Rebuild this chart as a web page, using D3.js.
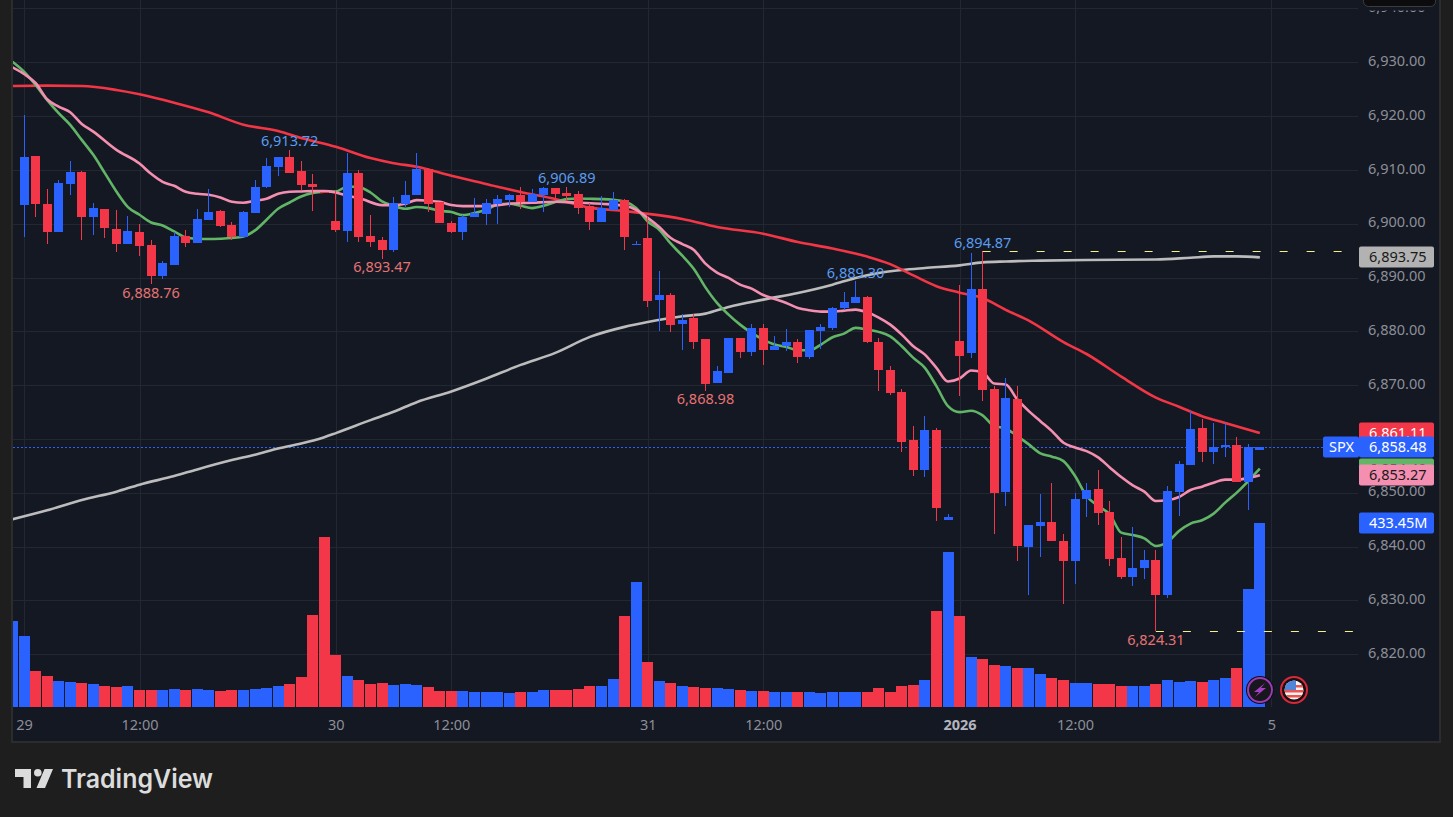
<!DOCTYPE html>
<html>
<head>
<meta charset="utf-8">
<script src="https://d3js.org/d3.v7.min.js"></script>
<style>
  html, body { margin: 0; padding: 0; background: #1e1e1e; overflow: hidden; }
  svg { display: block; }
  text { font-family: "Noto Sans", sans-serif; }
</style>
</head>
<body>
<div id="chart"></div>
<script>
// SPX 30 min candles
var opens = [6903.5,6912.6,6903.7,6898.5,6907.4,6909.65,6901.3,6902.8,6899.1,6896.3,6898.5,6896.1,6890.2,6892.4,6897.8,6896.5,6900.7,6902.4,6899.8,6897.6,6902,6906.9,6910.6,6912.4,6909.8,6907.4,6905.9,6900.5,6898.7,6909.4,6897.8,6897,6895.2,6903.7,6905.4,6910.2,6904.1,6900.2,6898.5,6901.3,6901.8,6903.7,6904.4,6905.4,6904.1,6905.4,6906.7,6905.7,6905.55,6903.3,6900.35,6902.6,6904.4,6896.1,6897.4,6885.75,6886.7,6881.3,6882.4,6878.5,6870.35,6872.2,6878.7,6876.1,6880.7,6876.5,6877.2,6878,6875.2,6880,6880.7,6884.3,6885.2,6886.3,6878.1,6872.87,6868.8,6859.9,6854.3,6861.6,6845,6878.25,6876,6887.9,6869.35,6850.2,6867.5,6840,6843.9,6844.5,6841.1,6837.25,6848.8,6850.7,6846.4,6837.9,6834.3,6836,6837.5,6831,6850.1,6855.1,6862,6857.5,6858.5,6858.8,6852,6858];
var highs = [6920.2,6912.6,6906.5,6908.2,6911.7,6909.8,6903.9,6902.8,6902.6,6901.5,6900,6896.9,6893,6898.5,6898.9,6902.8,6906.5,6902.6,6900.4,6902.4,6908.2,6912.3,6912.4,6913.72,6911.7,6909.3,6905.9,6906,6913.15,6910,6901.65,6897.6,6905,6908,6913.15,6910.4,6904.1,6900.5,6901.65,6904.8,6904.6,6905.4,6905.55,6906.85,6906.5,6906.85,6906.7,6906.89,6906.1,6903.9,6905.2,6905.9,6904.6,6896.8,6901.4,6891.3,6887.2,6883.3,6883.3,6878.5,6873.5,6878.7,6878.7,6881.3,6881.3,6879.1,6880.4,6878.5,6880.2,6881.3,6884.6,6887.4,6889.3,6886.5,6878.7,6873.5,6869.35,6862.5,6864.3,6862.1,6846,6888.6,6894.6,6894.87,6869.9,6871.4,6869.9,6844.1,6849.7,6851.9,6842.3,6849.9,6851.9,6854.2,6848.4,6841.8,6843.6,6839.35,6839.35,6851.2,6855.9,6865.3,6863.65,6862.9,6863,6860.3,6859,6858.48];
var lows = [6897.6,6901.3,6896.3,6898.5,6905.4,6896.9,6898,6897.4,6894.8,6896.3,6894.1,6888.76,6889.8,6892.4,6895.7,6896.5,6900.7,6899.4,6896.9,6897.6,6902,6906.7,6908.9,6909.5,6906.3,6902.4,6905.8,6898.5,6896.6,6896.6,6895.7,6893.47,6894.8,6903.1,6905.4,6902.2,6900.2,6898.3,6897,6901.3,6899.8,6900,6903.1,6902.8,6904.1,6902.2,6904.6,6904.25,6901.8,6898.9,6900.35,6902.6,6895.2,6896.1,6884.45,6880,6879.8,6876.5,6876.8,6868.98,6870.35,6872.2,6875,6875.4,6873.7,6876.5,6876.3,6874.1,6874.8,6876.8,6880.2,6883.9,6885.2,6877.8,6868.9,6868.2,6857.5,6853.2,6853,6844.7,6845,6868,6875.1,6867,6842.4,6847.5,6837.4,6831,6838,6841,6829.3,6833,6845.5,6844,6836.4,6834,6832.7,6834,6824.31,6830.4,6845.7,6855.1,6855.7,6855.3,6856.6,6852,6846.8,6858];
var closes = [6912.4,6903.7,6898.5,6907.6,6909.65,6901.3,6903,6899.3,6896.3,6898.7,6895.9,6890.2,6892.8,6897.8,6896.5,6900.9,6902.2,6899.6,6897.6,6902.2,6906.9,6910.8,6912.4,6909.5,6907.2,6906.9,6905.8,6898.9,6909.4,6897.6,6896.6,6895.2,6903.9,6905.4,6910.2,6903.7,6900.2,6898.5,6901.3,6902,6903.9,6904.6,6905.4,6904.1,6905.55,6906.7,6905.55,6905.2,6903,6900.35,6903,6904.4,6897.6,6896.3,6885.6,6886.7,6881.1,6882.2,6878.1,6870.2,6872.6,6878.7,6876.1,6880.7,6876.5,6877.2,6878,6875.2,6880.2,6880.9,6884.3,6885.4,6886.3,6878,6872.8,6868.6,6859.5,6854.3,6861.6,6847.1,6845.6,6875.5,6887.9,6869.2,6850.05,6867.7,6840.2,6844.1,6844.5,6841,6837.25,6848.9,6850.5,6846.2,6837.7,6834.3,6836,6837.5,6831,6850.3,6855.3,6861.8,6857.5,6858.6,6858.8,6852,6858.6,6858.48];

// volume in millions, first value belongs to the cut off bar left of the first candle
var volumes = [202.6,167.2,84.8,73,61.2,58.9,56.5,54.2,49.5,47.1,49.5,40,40,40,42.4,40,42.4,40,37.7,40,40,42.4,44.8,49.5,54.2,70.7,216.7,400.5,122.5,73,63.6,54.2,56.5,51.8,54.2,51.8,47.1,37.7,37.7,37.7,35.3,35.3,35.3,33,35.3,35.3,40,40,40,42.4,49.5,49.5,66,214.4,294.5,106,61.2,56.5,49.5,47.1,44.8,44.8,42.4,40,37.7,37.7,35.3,35.3,35.3,35.3,33,35.3,35.3,35.3,35.3,44.8,35.3,49.5,51.8,63.6,226.1,365.1,214.4,117.8,113.1,98.9,96.6,91.9,91.9,77.7,68.3,63.6,56.5,56.5,54.2,54.2,49.5,49.5,49.5,54.2,63.6,58.9,61.2,58.9,63.6,68.3,91.9,278,433.45];

// moving averages, each with the bar numbers it was read at
var greenIndex = d3.range(-1, 108);
var greenValues = [6930.11,6928.26,6925.79,6923.01,6920.54,6918.37,6915.58,6912.8,6909.41,6905.99,6903.1,6901.67,6900.24,6899.68,6898.57,6897.46,6897.22,6897.16,6897.22,6897.35,6897.64,6898.76,6900.74,6902.78,6903.95,6905.07,6905.7,6905.94,6905.99,6906.92,6906.81,6905.81,6904.14,6903.34,6902.78,6903.1,6902.91,6902.41,6902.17,6901.61,6901.98,6902.6,6903.52,6903.71,6903.34,6902.91,6903.34,6904.03,6904.58,6904.69,6904.64,6904.58,6904.45,6904.14,6902.91,6900.43,6898.89,6896.29,6894.06,6891.6,6888.18,6885.29,6883.12,6881.26,6879.72,6878.48,6877.55,6877.12,6876.49,6876.49,6877.55,6878.91,6879.59,6880.65,6880.33,6879.91,6879.09,6877.24,6875.08,6873.23,6869.82,6866.1,6864.99,6865.25,6864.38,6862.39,6861.97,6860.54,6859,6857.33,6856.72,6855.9,6853.12,6849.4,6847.55,6846.01,6842.61,6842.17,6841.55,6840.13,6840.87,6842.91,6844.29,6844.9,6846.14,6848.18,6850.04,6852.19,6854.49];

var pinkIndex = [-1,0,1,2,3,4,5,6,8,10,11,12,13,14,15,16,17,18,19,20,21,22,23,24,25,26,27,28,29,31,32,33,34,35,36,37,38,40,42,44,46,48,50,52,53,54,55,56,57,58,59,60,61,62,63,64,65,66,67,68,69,70,71,72,73,74,75,76,77,78,79,80,81,82,83,84,85,86,87,88,89,90,91,92,93,94,95,96,97,98,99,100,101,102,103,104,105,106,107];
var pinkValues = [6929.07,6927.83,6926.16,6923.14,6921.76,6920.72,6918.55,6917.12,6913.73,6911.19,6909.28,6907.79,6907.05,6905.94,6905.57,6905.38,6904.88,6904.08,6903.9,6904.27,6904.64,6905.57,6905.94,6906,6906.07,6906.07,6905.81,6905.2,6904.77,6903.47,6903.47,6903.71,6904.4,6904.27,6904.08,6903.47,6903.28,6903.28,6903.71,6903.9,6904.08,6903.9,6903.71,6903.34,6902.6,6901.1,6899.39,6897.35,6896.23,6895.12,6892.58,6890.91,6889.93,6888.68,6887.94,6886.77,6886.03,6885.29,6884.36,6883.92,6883.67,6883.67,6883.86,6884.04,6883.54,6882.56,6881.26,6879.4,6877.24,6875.69,6873.23,6870.69,6871.24,6872.73,6872.36,6870.32,6870.13,6867.35,6865.18,6863.32,6861.47,6859.31,6858.44,6857.75,6856.59,6854.73,6852.93,6851.39,6850.22,6848.48,6848.61,6849.22,6850.52,6851.15,6851.89,6852.45,6852.45,6852.75,6853.27];

var redIndex = [-1,2,5,8,10,13,16,19,22,24,27,30,32,34,37,40,43,46,49,52,54,57,60,64,67,70,73,75,77,79,81,83,85,87,90,92,95,98,100,102,104,107];
var redValues = [6925.6,6925.66,6925.6,6924.86,6924.06,6922.5,6920.7,6918.4,6917.25,6915.95,6914.3,6912.2,6911.25,6910.6,6908.9,6907.4,6905.9,6904.6,6903,6902.35,6901.85,6900.9,6899.4,6898.15,6896.6,6895.4,6893.9,6892.5,6890.4,6888.4,6887.2,6886.2,6884,6882,6878,6875.8,6871.6,6867.7,6866,6864.25,6863,6861.11];

var greyIndex = [-1,2,5,8,10,13,15,18,20,22,24,26,27,30,32,34,37,40,43,46,49,52,54,57,59,61,64,67,70,72,74,76,78,81,83,85,88,92,98,101,103,105,107];
var greyValues = [6845.08,6846.75,6848.66,6850.22,6851.52,6853.12,6854.36,6856.09,6857.09,6858.26,6859.18,6860.35,6861.1,6863.51,6865.06,6866.85,6868.83,6871.19,6873.78,6876.01,6878.98,6880.84,6881.73,6882.8,6883.3,6884.55,6885.9,6887.14,6888.68,6889.93,6890.85,6891.41,6891.78,6892.26,6892.82,6893,6893.14,6893.27,6893.36,6893.69,6893.93,6893.93,6893.75];

var priceTicks = [6820,6830,6840,6850,6860,6870,6880,6890,6900,6910,6920,6930,6940];
var timeTicks = [0,10,27,37,54,64,81,91,108];
var timeLabels = ["29","12:00","30","12:00","31","12:00","2026","12:00","5"];

var highMarks = [23,47,72,83];
var lowMarks = [11,31,59,98];

var lastClose = 6858.48;
var lastVolume = 433.45;

var width = 1453, height = 817;
var plotLeft = 13, plotRight = 1358;

var BLUE = "#2962ff", RED = "#f43649", GRID = "#232732", BG = "#141823";
var LABEL_BLUE = "#5b9cf0", LABEL_RED = "#e57373";

var svg = d3.select("#chart").append("svg").attr("width", width).attr("height", height);

// panel
svg.append("rect").attr("x", 12).attr("y", -4).attr("width", 1428).attr("height", 746)
  .attr("fill", BG).attr("stroke", "#2c2c2c").attr("stroke-width", 2);

var x = d3.scaleLinear().domain([0, 108]).range([24, 24 + 108 * 11.55]);
var y = d3.scaleLinear().domain([6820, 6930]).range([654.3, 62.3]);
var vol = d3.scaleLinear().domain([0, lastVolume]).range([707, 523]);

svg.append("clipPath").attr("id", "plot").append("rect")
  .attr("x", plotLeft).attr("y", 0).attr("width", plotRight - plotLeft).attr("height", 707);

// grid
svg.append("g").selectAll("line").data(priceTicks).join("line")
  .attr("x1", plotLeft).attr("x2", plotRight)
  .attr("y1", function(d) { return Math.round(y(d)) + 0.5; })
  .attr("y2", function(d) { return Math.round(y(d)) + 0.5; })
  .attr("stroke", GRID);

svg.append("g").selectAll("line").data(timeTicks).join("line")
  .attr("x1", function(d) { return Math.round(x(d)) + 0.5; })
  .attr("x2", function(d) { return Math.round(x(d)) + 0.5; })
  .attr("y1", 0).attr("y2", 707)
  .attr("stroke", GRID);

// last price line
svg.append("line")
  .attr("x1", plotLeft).attr("x2", 1323)
  .attr("y1", Math.round(y(lastClose)) + 0.5).attr("y2", Math.round(y(lastClose)) + 0.5)
  .attr("stroke", BLUE).attr("stroke-dasharray", "2 2")
  .attr("shape-rendering", "crispEdges");

var plot = svg.append("g").attr("clip-path", "url(#plot)");

function candleColor(i) {
  if (i < 0) return BLUE;
  return closes[i] >= opens[i] ? BLUE : RED;
}

// volume bars
plot.append("g").attr("shape-rendering", "crispEdges")
  .selectAll("rect").data(volumes).join("rect")
  .attr("x", function(d, i) { return Math.round(x(i - 1) - 5.5); })
  .attr("width", 11)
  .attr("y", function(d) { return vol(d); })
  .attr("height", function(d) { return vol(0) - vol(d); })
  .attr("fill", function(d, i) { return candleColor(i - 1); });

// moving averages
function drawAverage(index, values, color) {
  var line = d3.line()
    .x(function(d, i) { return x(index[i]); })
    .y(function(d) { return y(d); })
    .curve(d3.curveMonotoneX);
  plot.append("path").datum(values)
    .attr("d", line)
    .attr("fill", "none")
    .attr("stroke", color)
    .attr("stroke-width", 2.6);
}
drawAverage(greyIndex, greyValues, "#bcbcbc");
drawAverage(redIndex, redValues, "#f23645");
drawAverage(greenIndex, greenValues, "#62b567");
drawAverage(pinkIndex, pinkValues, "#f48fb1");

// candles
var candles = plot.append("g").attr("shape-rendering", "crispEdges");

candles.selectAll(".wick").data(opens).join("rect")
  .attr("class", "wick")
  .attr("x", function(d, i) { return Math.round(x(i) - 0.5); })
  .attr("width", 1)
  .attr("y", function(d, i) { return y(highs[i]); })
  .attr("height", function(d, i) { return Math.max(1, y(lows[i]) - y(highs[i])); })
  .attr("fill", function(d, i) { return candleColor(i); });

candles.selectAll(".body").data(opens).join("rect")
  .attr("class", "body")
  .attr("x", function(d, i) { return Math.round(x(i) - 0.5) - 4; })
  .attr("width", 9)
  .attr("y", function(d, i) { return y(Math.max(d, closes[i])); })
  .attr("height", function(d, i) { return Math.max(1, Math.abs(y(d) - y(closes[i]))); })
  .attr("fill", function(d, i) { return candleColor(i); });

// session high and low dashes
var dashes = [{ bar: 83, value: highs[83] }, { bar: 98, value: lows[98] }];
svg.append("g").selectAll("line").data(dashes).join("line")
  .attr("x1", function(d) { return x(d.bar); })
  .attr("x2", plotRight)
  .attr("y1", function(d) { return Math.round(y(d.value)) + 0.5; })
  .attr("y2", function(d) { return Math.round(y(d.value)) + 0.5; })
  .attr("stroke", "#f5f08a")
  .attr("stroke-dasharray", "8 19");

// high and low labels
var money = d3.format(",.2f");

svg.append("g").selectAll("text").data(highMarks).join("text")
  .attr("x", function(d) { return x(d); })
  .attr("y", function(d) { return y(highs[d]) - 8.5; })
  .attr("dy", "0.35em")
  .attr("text-anchor", "middle")
  .attr("font-size", 14.5)
  .attr("fill", LABEL_BLUE)
  .text(function(d) { return money(highs[d]); });

svg.append("g").selectAll("text").data(lowMarks).join("text")
  .attr("x", function(d) { return x(d); })
  .attr("y", function(d) { return y(lows[d]) + 8.5; })
  .attr("dy", "0.35em")
  .attr("text-anchor", "middle")
  .attr("font-size", 14.5)
  .attr("fill", LABEL_RED)
  .text(function(d) { return money(lows[d]); });

// price axis
var priceAxis = d3.axisRight(y).tickValues(priceTicks).tickFormat(money).tickSize(0).tickPadding(0);
var priceG = svg.append("g").attr("transform", "translate(1368,-1.5)").call(priceAxis);
priceG.select(".domain").remove();
priceG.selectAll("text").attr("fill", "#8c8f98").attr("font-size", 14.5).attr("x", 0);

// time axis
var timeAxis = d3.axisBottom(x).tickValues(timeTicks)
  .tickFormat(function(d, i) { return timeLabels[i]; }).tickSize(0).tickPadding(0);
var timeG = svg.append("g").attr("transform", "translate(0,720)").call(timeAxis);
timeG.select(".domain").remove();
timeG.selectAll("text")
  .attr("fill", function(d, i) { return timeLabels[i] == "2026" ? "#b2b5be" : "#8c8f98"; })
  .attr("font-weight", function(d, i) { return timeLabels[i] == "2026" ? "bold" : "normal"; })
  .attr("font-size", 14.5);

// black box over the top of the scale, hides most of the top tick label
svg.append("rect").attr("x", 1360).attr("y", 0).attr("width", 78).attr("height", 10.5).attr("fill", BG);
svg.append("rect").attr("x", 1363.5).attr("y", -8).attr("width", 72).attr("height", 14.5).attr("rx", 5)
  .attr("fill", "#0c0c0e").attr("stroke", "#3c3c3c");

// price boxes, last ones drawn on top
var boxValues = [greyValues[greyValues.length - 1], redValues[redValues.length - 1], greenValues[greenValues.length - 1], pinkValues[pinkValues.length - 1], lastClose];
var boxFills = ["#b2b2b2", RED, "#62b567", "#f48fb1", BLUE];
var boxText = ["#1a1a1a", "#ffffff", "#1a1a1a", "#1a1a1a", "#ffffff"];

var boxes = svg.append("g").selectAll("g").data(boxValues).join("g")
  .attr("transform", function(d) { return "translate(1359," + (Math.round(y(d)) - 10.5) + ")"; });
boxes.append("rect").attr("width", 75).attr("height", 21).attr("rx", 2)
  .attr("fill", function(d, i) { return boxFills[i]; });
boxes.append("text").attr("x", 10).attr("y", 10.5).attr("dy", "0.35em")
  .attr("font-size", 14.5)
  .attr("fill", function(d, i) { return boxText[i]; })
  .text(function(d) { return money(d); });

// symbol tag next to the last price
var tag = svg.append("g").attr("transform", "translate(1323," + (Math.round(y(lastClose)) - 10.5) + ")");
tag.append("rect").attr("width", 36).attr("height", 21).attr("rx", 2).attr("fill", BLUE);
tag.append("text").attr("x", 6).attr("y", 10.5).attr("dy", "0.35em")
  .attr("font-size", 14.5).attr("fill", "#ffffff").text("SPX");

// volume box
var volBox = svg.append("g").attr("transform", "translate(1359," + (Math.round(vol(lastVolume)) - 10.5) + ")");
volBox.append("rect").attr("width", 75).attr("height", 21).attr("rx", 2).attr("fill", BLUE);
volBox.append("text").attr("x", 10).attr("y", 10.5).attr("dy", "0.35em")
  .attr("font-size", 14.5).attr("fill", "#ffffff").text(lastVolume + "M");

// lightning badge
var bolt = svg.append("g").attr("transform", "translate(1260,690)");
bolt.append("circle").attr("r", 14).attr("fill", "#0d0f15");
bolt.append("circle").attr("r", 12).attr("fill", "#17171d").attr("stroke", "#9c3bb5").attr("stroke-width", 2);
bolt.append("path").attr("d", "M5,-7 L-6,2 L-1,2 L-5,7 L6,-2 L1,-2 Z").attr("fill", "#a63fc4");

// flag badge
var flag = svg.append("g").attr("transform", "translate(1294,690)");
svg.append("clipPath").attr("id", "flagClip").append("circle").attr("r", 9.5);
flag.append("circle").attr("r", 13).attr("fill", "#1a1012").attr("stroke", "#d9283a").attr("stroke-width", 2);
var flagInner = flag.append("g").attr("clip-path", "url(#flagClip)");
flagInner.append("rect").attr("x", -10).attr("y", -10).attr("width", 20).attr("height", 20).attr("fill", "#f4f4f4");
flagInner.selectAll(".stripe").data([-5, 0, 5]).join("rect")
  .attr("class", "stripe").attr("x", -10).attr("width", 20)
  .attr("y", function(d) { return d; }).attr("height", 2.5).attr("fill", "#ef5350");
flagInner.append("rect").attr("x", -10).attr("y", -10).attr("width", 12).attr("height", 10).attr("fill", "#4f86d9");

// logo
svg.append("path").attr("fill", "#dcdcdc")
  .attr("d", "M15,769 H31 V788 H23.5 V777 H15 Z M44.5,769 H53 L45,788 H36.5 Z");
svg.append("circle").attr("cx", 37.8).attr("cy", 772.8).attr("r", 3.8).attr("fill", "#dcdcdc");
svg.append("text").attr("x", 61).attr("y", 788)
  .attr("textLength", 152).attr("lengthAdjust", "spacingAndGlyphs")
  .attr("font-size", 26).attr("font-weight", 600)
  .style("font-family", "Inter, sans-serif")
  .attr("fill", "#dcdcdc").text("TradingView");
</script>
</body>
</html>
